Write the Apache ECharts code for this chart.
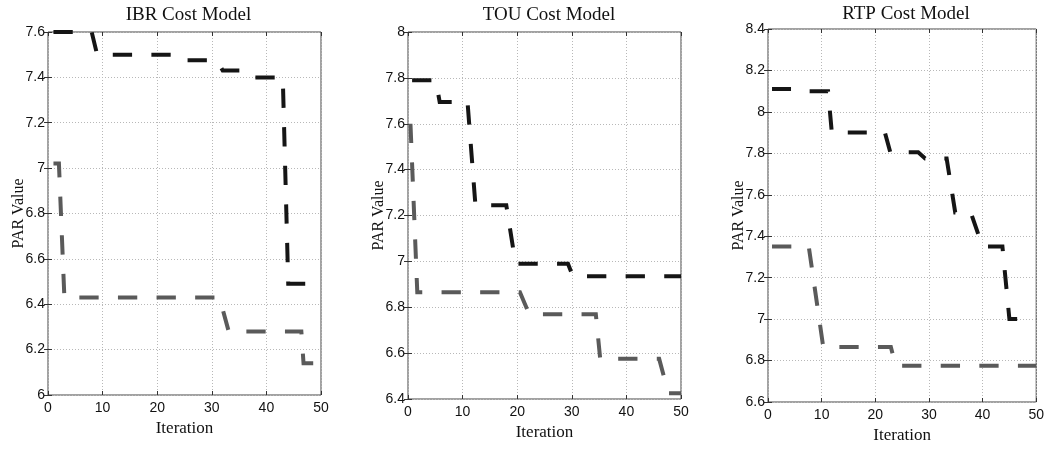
<!DOCTYPE html>
<html>
<head>
<meta charset="utf-8">
<script src="https://cdn.jsdelivr.net/npm/echarts@6/dist/echarts.min.js"></script>
<style>
html,body{margin:0;padding:0;background:#fff;}
#chart{width:1047px;height:449px;}
</style>
</head>
<body>
<div id="chart"></div>
<script>
// ---- data ----
const titles = ['IBR Cost Model', 'TOU Cost Model', 'RTP Cost Model'];
const xName = 'Iteration';
const yName = 'PAR Value';
const xRange = [0, 50, 10];          // min, max, interval
const yRanges = [[6, 7.6, 0.2], [6.4, 8, 0.2], [6.6, 8.4, 0.2]];

// IBR
const ibrBlackX = [1, 8, 9, 24, 25, 31, 32, 36, 37, 43, 44, 50];
const ibrBlackY = [7.6, 7.6, 7.5, 7.5, 7.475, 7.475, 7.43, 7.43, 7.4, 7.4, 6.49, 6.49];
const ibrGrayX = [1, 2, 3, 31.4, 33.1, 46.4, 46.8, 50];
const ibrGrayY = [7.02, 7.02, 6.43, 6.43, 6.28, 6.28, 6.14, 6.14];
// TOU
const touBlackX = [0.75, 5.1, 5.8, 10.9, 12.35, 18, 19.7, 29.3, 30.2, 50];
const touBlackY = [7.79, 7.79, 7.695, 7.695, 7.245, 7.245, 6.99, 6.99, 6.935, 6.935];
const touGrayX = [0.45, 1.7, 20.5, 22.2, 34.4, 35.2, 46, 47.7, 50];
const touGrayY = [7.6, 6.865, 6.865, 6.77, 6.77, 6.575, 6.575, 6.425, 6.425];
// RTP
const rtpBlackX = [0.75, 6, 7, 11.2, 11.9, 21.8, 22.8, 28, 29.3, 33.3, 34.9, 37.8, 40.0, 43.7, 45, 50];
const rtpBlackY = [8.11, 8.11, 8.1, 8.1, 7.9, 7.9, 7.805, 7.805, 7.775, 7.775, 7.515, 7.515, 7.35, 7.35, 7.0, 7.0];
const rtpGrayX = [0.75, 7.6, 10.3, 22.9, 23.8, 50];
const rtpGrayY = [7.35, 7.35, 6.865, 6.865, 6.775, 6.775];

// ---- layout / style ----
const grids = [
  {left: 48, top: 32, width: 273, height: 363},
  {left: 408, top: 32, width: 273, height: 367},
  {left: 768, top: 29, width: 273, height: 374}
];
const titlePos = [[188.5, 15], [549, 15.5], [906, 14]];
const BLACK = '#151515', GRAY = '#5a5a5a';
const DASH = [19.3, 19.3], DASH_RTP = [19, 19];
const SANS = '"Liberation Sans", Arial, sans-serif';
const SERIF = '"Liberation Serif", "Times New Roman", serif';

const zip = (xs, ys) => xs.map((v, i) => [v, ys[i]]);
const seriesData = [
  [[ibrBlackX, ibrBlackY, BLACK, DASH], [ibrGrayX, ibrGrayY, GRAY, DASH]],
  [[touBlackX, touBlackY, BLACK, DASH], [touGrayX, touGrayY, GRAY, DASH]],
  [[rtpBlackX, rtpBlackY, BLACK, DASH_RTP], [rtpGrayX, rtpGrayY, GRAY, DASH]]
];

const tickStyle = {show: true, inside: true, length: 4, lineStyle: {color: '#333', width: 1}};
const splitStyle = {show: true, lineStyle: {color: '#b8b8b8', width: 1, type: [1, 2]}};
const fmt = v => String(Math.round(v * 10) / 10);

const option = {
  animation: false,
  backgroundColor: '#fff',
  grid: grids.map(g => Object.assign({show: true, borderColor: '#444', borderWidth: 1, backgroundColor: 'transparent', containLabel: false}, g)),
  xAxis: [], yAxis: [], series: [],
  graphic: titles.map((t, i) => ({
    type: 'text', x: titlePos[i][0], y: titlePos[i][1],
    style: {text: t, align: 'center', verticalAlign: 'middle', font: '19px ' + SERIF, fill: '#111'}
  }))
};

for (let i = 0; i < 3; i++) {
  const yr = yRanges[i];
  option.xAxis.push({
    type: 'value', gridIndex: i, min: xRange[0], max: xRange[1], interval: xRange[2],
    position: 'bottom',
    name: xName, nameLocation: 'middle', nameGap: 25, nameMoveOverlap: false,
    nameTextStyle: {fontFamily: SERIF, fontSize: 17, color: '#111'},
    axisLine: {show: false}, axisTick: tickStyle,
    axisLabel: {fontFamily: SANS, fontSize: 14, color: '#111', margin: 6},
    splitLine: splitStyle
  });
  option.yAxis.push({
    type: 'value', gridIndex: i, min: yr[0], max: yr[1], interval: yr[2],
    position: 'left',
    name: yName, nameLocation: 'middle', nameGap: 21, nameRotate: 90, nameMoveOverlap: false,
    nameTextStyle: {fontFamily: SERIF, fontSize: 16, color: '#111'},
    axisLine: {show: false}, axisTick: tickStyle,
    axisLabel: {fontFamily: SANS, fontSize: 14, color: '#111', margin: 3, formatter: fmt},
    splitLine: splitStyle
  });
}
// mirror axes (top / right) for the box ticks
for (let i = 0; i < 3; i++) {
  const yr = yRanges[i];
  option.xAxis.push({
    type: 'value', gridIndex: i, min: xRange[0], max: xRange[1], interval: xRange[2],
    position: 'top', axisLine: {show: false}, axisTick: tickStyle,
    axisLabel: {show: false}, splitLine: {show: false}
  });
  option.yAxis.push({
    type: 'value', gridIndex: i, min: yr[0], max: yr[1], interval: yr[2],
    position: 'right', axisLine: {show: false}, axisTick: tickStyle,
    axisLabel: {show: false}, splitLine: {show: false}
  });
}

seriesData.forEach((pair, i) => {
  pair.forEach(([xs, ys, color, dash]) => {
    option.series.push({
      type: 'line', xAxisIndex: i, yAxisIndex: i,
      data: zip(xs, ys),
      showSymbol: false, symbol: 'none', smooth: false,
      lineStyle: {color: color, width: 4, type: dash, cap: 'butt', join: 'miter'},
      emphasis: {disabled: true}, silent: true
    });
  });
});

const chart = echarts.init(document.getElementById('chart'), null, {renderer: 'canvas'});
chart.setOption(option);
</script>
</body>
</html>
